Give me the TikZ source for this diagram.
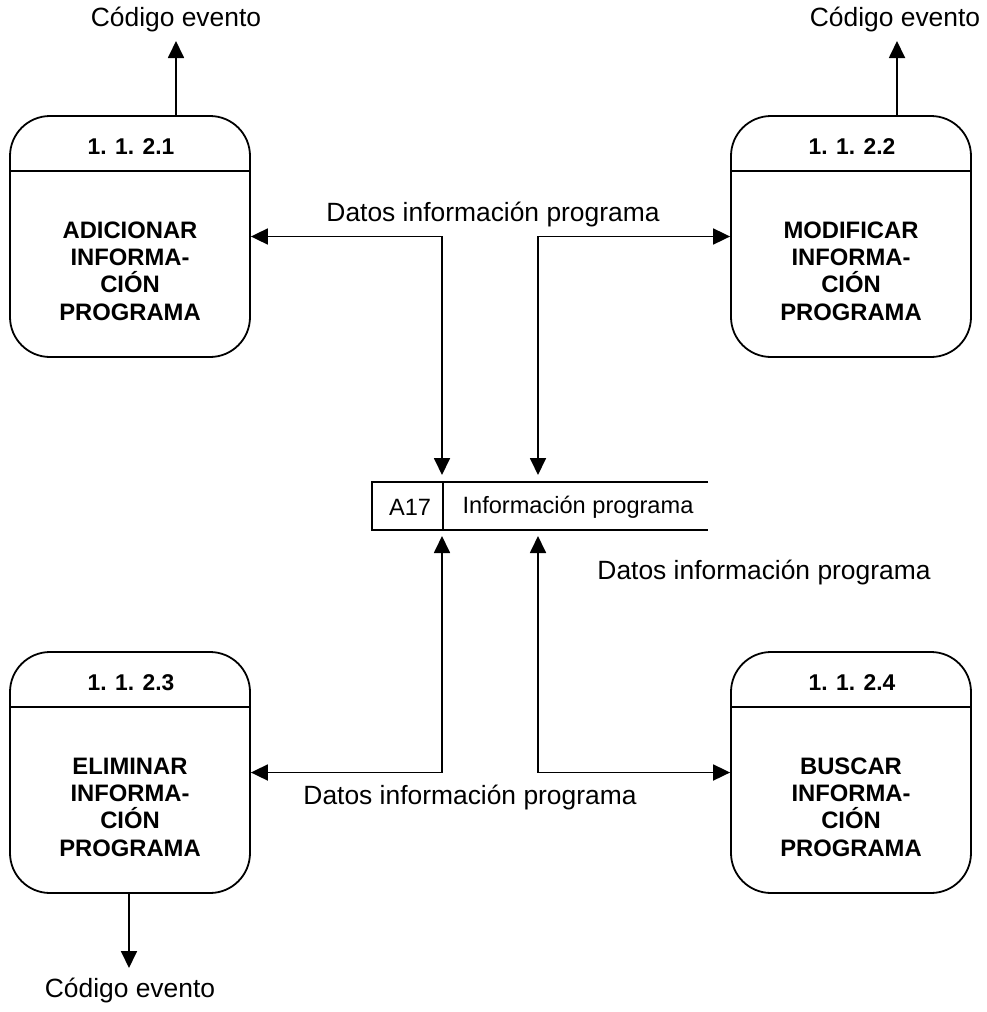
\documentclass[tikz,border=0pt]{standalone}
\usepackage{fontspec}
\setmainfont{Liberation Sans}
\usetikzlibrary{arrows.meta}
\begin{document}
\begin{tikzpicture}[x=1pt,y=-1pt,
  procbox/.style={draw,line width=1.8pt,rounded corners=40pt,minimum width=240pt,minimum height=241pt,inner sep=0pt},
  divline/.style={line width=1.8pt},
  num/.style={font=\fontsize{22.8}{27}\selectfont\bfseries,inner sep=0pt},
  body/.style={font=\fontsize{23.8}{27.3}\selectfont\bfseries,align=center,inner sep=0pt},
  lbl/.style={font=\fontsize{26.4}{30}\selectfont,inner sep=0pt},
  stxt/.style={font=\fontsize{23.6}{27}\selectfont,inner sep=0pt},
  flow/.style={line width=1.8pt,-{Triangle[length=17pt,width=16pt]}},
  bflow/.style={line width=1.8pt,{Triangle[length=17pt,width=16pt]}-{Triangle[length=17pt,width=16pt]}}
]
\useasboundingbox (0,0) rectangle (987,1012);

% process boxes
\node[procbox] (p1) at (130,236.5) {};
\node[procbox] (p2) at (851,236.5) {};
\node[procbox] (p3) at (130,772.5) {};
\node[procbox] (p4) at (851,772.5) {};

\foreach \p in {p1,p2,p3,p4}
  \draw[divline] ([yshift=-56pt]\p.north west) -- ([yshift=-56pt]\p.north east);

\node[num] (p1n) at (131,147) {1. 1. 2.1};
\node[num] (p2n) at (852,147) {1. 1. 2.2};
\node[num] (p3n) at (131,683) {1. 1. 2.3};
\node[num] (p4n) at (852,683) {1. 1. 2.4};

\node[body] (p1t) at (130,271) {ADICIONAR\\INFORMA-\\CIÓN\\PROGRAMA};
\node[body] (p2t) at (851,271) {MODIFICAR\\INFORMA-\\CIÓN\\PROGRAMA};
\node[body] (p3t) at (130,807) {ELIMINAR\\INFORMA-\\CIÓN\\PROGRAMA};
\node[body] (p4t) at (851,807) {BUSCAR\\INFORMA-\\CIÓN\\PROGRAMA};

% data store
\draw[divline] (708,482) -- (372,482) -- (372,530) -- (708,530);
\draw[divline] (443,482) -- (443,530);
\node[stxt] (sid) at (410,507) {A17};
\node[stxt] (sname) at (578,507) {Información programa};
\coordinate (sTL) at (442,475);
\coordinate (sTR) at (538,475);
\coordinate (sBL) at (442,536);
\coordinate (sBR) at (538,536);

% external labels
\node[lbl] (c1) at (176,20) {Código evento};
\node[lbl] (c2) at (895,20) {Código evento};
\node[lbl] (c3) at (130,991) {Código evento};

\coordinate (c1t) at (176,41);
\coordinate (c2t) at (897,41);
\coordinate (c3t) at (129,968);

\draw[flow] (p1.north -| c1t) -- (c1t);
\draw[flow] (p2.north -| c2t) -- (c2t);
\draw[flow] (p3.south -| c3t) -- (c3t);

% flows to/from store
\draw[bflow] (p1.east) -| (sTL);
\draw[bflow] (p2.west) -| (sTR);
\draw[bflow] (p3.east) -| (sBL);
\draw[bflow] (p4.west) -| (sBR);

\node[lbl] (d1) at (493,215) {Datos información programa};
\node[lbl] (d2) at (764,573) {Datos información programa};
\node[lbl] (d3) at (470,798) {Datos información programa};
\end{tikzpicture}
\end{document}
